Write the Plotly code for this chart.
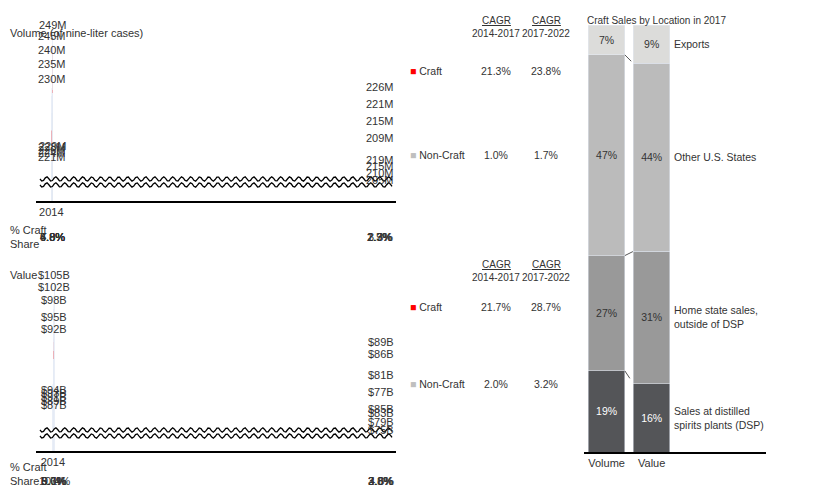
import numpy as np
import plotly.graph_objects as go

# === Data ===
years = ["2014", "2015", "2016", "2017", "2018f", "2019f", "2020f", "2021f", "2022f"]
vol_noncraft = [205, 210, 215, 219, 221, 224, 226, 228, 229]
vol_craft = [4, 5, 6, 8, 9, 11, 14, 17, 20]
vol_total = [209, 215, 221, 226, 230, 235, 240, 245, 249]
vol_share = ["1.9%", "2.3%", "2.7%", "3.3%", "4.0%", "4.8%", "5.8%", "6.8%", "7.9%"]

val_noncraft = [75, 79, 83, 85, 87, 89, 91, 93, 94]
val_craft = [2, 2, 3, 4, 5, 6, 8, 9, 11]
val_total = [77, 81, 86, 89, 92, 95, 98, 102, 105]
val_share = ["2.3%", "3.0%", "3.8%", "4.6%", "5.6%", "6.7%", "8.0%", "9.1%", "10.4%"]

cagr_vol = {"Craft": ["21.3%", "23.8%"], "Non-Craft": ["1.0%", "1.7%"]}
cagr_val = {"Craft": ["21.7%", "28.7%"], "Non-Craft": ["2.0%", "3.2%"]}

loc_cats = ["Volume", "Value"]
loc_segments = ["Sales at distilled<br>spirits plants (DSP)", "Home state sales,<br>outside of DSP",
                "Other U.S. States", "Exports"]
loc_values = [[19, 16], [27, 31], [47, 44], [7, 9]]
loc_colors = ["#545558", "#999999", "#bbbbbb", "#dcdcda"]

RED, GREY = "#ff0000", "#bfbfbf"
W, H = 840, 489
FONT = "Liberation Sans Narrow, Liberation Sans"
TXT = "#333333"

VOL_RANGE = [190, 251]
VAL_RANGE = [65, 107.6]

fig = go.Figure()

def px(x):
    return x / W

def py(y):
    return 1 - y / H

def f(size=10):
    return dict(size=size, color=TXT, family=FONT)

# === Stacked bar panels ===
for ax, nc, cr, tots, rng in [("", vol_noncraft, vol_craft, vol_total, VOL_RANGE),
                              ("2", val_noncraft, val_craft, val_total, VAL_RANGE)]:
    unit = "M" if ax == "" else "B"
    pre = "" if ax == "" else "$"
    fig.add_bar(x=years, y=nc, marker_color=GREY, width=0.67, xaxis="x" + ax, yaxis="y" + ax,
                showlegend=False, hoverinfo="skip")
    fig.add_bar(x=years, y=cr, marker_color=RED, width=0.67, xaxis="x" + ax, yaxis="y" + ax,
                text=[f"{pre}{v}{unit}" for v in cr], textposition="inside", insidetextanchor="middle",
                textfont=dict(color="white", size=11, family=FONT), showlegend=False, hoverinfo="skip")
    for i, yr in enumerate(years):
        fig.add_annotation(x=yr, y=(rng[0] + nc[i]) / 2, xref="x" + ax, yref="y" + ax,
                           text=f"{pre}{nc[i]}{unit}", showarrow=False, font=f(11))
        fig.add_annotation(x=yr, y=nc[i] + cr[i], xref="x" + ax, yref="y" + ax,
                           text=f"{pre}{tots[i]}{unit}", showarrow=False, yanchor="bottom", yshift=1,
                           font=f(11))

# share rows
for ax, share, ypix in [("x", vol_share, 229), ("x2", val_share, 481)]:
    for i, yr in enumerate(years):
        fig.add_annotation(x=yr, y=py(ypix), xref=ax, yref="paper", text=share[i], showarrow=False,
                           font=f(11))
    fig.add_annotation(x=0, y=py(ypix), xref="paper", yref="paper", xanchor="left",
                       text="% Craft<br>Share", showarrow=False, align="left", font=f(11))

fig.add_annotation(x=0, y=py(17), xref="paper", yref="paper", xanchor="left", text="Volume (of nine-liter cases)",
                   showarrow=False, font=f(11))
fig.add_annotation(x=0, y=py(267), xref="paper", yref="paper", xanchor="left", text="Value",
                   showarrow=False, font=f(11))

# axis break squiggles
def wave(x0, x1, ypix, amp=2.2, period=9):
    xs = np.linspace(x0, x1, 200)
    ys = ypix + amp * np.sin(2 * np.pi * (xs - x0) / period)
    return "M " + " L ".join(f"{px(a):.5f},{py(b):.5f}" for a, b in zip(xs, ys))

for yb in [174, 425]:
    fig.add_shape(type="path", path=wave(32, 384, yb), xref="paper", yref="paper",
                  line=dict(color="white", width=6))
    for off in (-3, 3):
        fig.add_shape(type="path", path=wave(32, 384, yb + off), xref="paper", yref="paper",
                      line=dict(color="black", width=1.3))

# legend + CAGR tables
for cagr, ytop, ycraft, ync in [(cagr_vol, 5, 55, 139), (cagr_val, 256, 299, 384)]:
    for xc, period in [(488, "2014-2017"), (538, "2017-2022")]:
        fig.add_annotation(x=px(xc), y=py(ytop), xref="paper", yref="paper", text="<u>CAGR</u>",
                           showarrow=False, font=f(10))
        fig.add_annotation(x=px(xc), y=py(ytop + 13), xref="paper", yref="paper", text=period,
                           showarrow=False, font=f(10))
    for name, yrow, col in [("Craft", ycraft, RED), ("Non-Craft", ync, GREY)]:
        fig.add_annotation(x=px(400), y=py(yrow), xref="paper", yref="paper", xanchor="left",
                           text=f"<span style='color:{col}'>■</span> {name}", showarrow=False, font=f(10.5))
        for xc, v in zip([488, 538], cagr[name]):
            fig.add_annotation(x=px(xc), y=py(yrow), xref="paper", yref="paper", text=v,
                               showarrow=False, font=f(10.5))

# === Location panel ===
for seg, vals, col in zip(loc_segments, loc_values, loc_colors):
    fig.add_bar(x=loc_cats, y=vals, marker_color=col, width=0.81, xaxis="x3", yaxis="y3",
                text=[f"{v}%" for v in vals], textposition="inside", insidetextanchor="middle",
                textfont=dict(size=10.5, family=FONT, color="white" if col == "#545558" else TXT),
                showlegend=False, hoverinfo="skip")
cum_vol = np.cumsum([v[0] for v in loc_values])
cum_val = np.cumsum([v[1] for v in loc_values])
for k in range(len(loc_segments) - 1):
    fig.add_shape(type="line", xref="x3", yref="y3", x0=0.405, x1=1 - 0.405, y0=cum_vol[k], y1=cum_val[k],
                  line=dict(color="#555555", width=1, dash="dash"))
for k, seg in enumerate(loc_segments):
    fig.add_annotation(x=1.45, y=cum_val[k] - loc_values[k][1] / 2, xref="x3", yref="y3", xanchor="left",
                       text=seg, showarrow=False, align="left", font=f(10.5))
fig.add_annotation(x=px(577), y=py(5), xref="paper", yref="paper", xanchor="left",
                   text="Craft Sales by Location in 2017", showarrow=False, font=f(10))

axfont = f(11)
fig.update_layout(
    barmode="stack", width=W, height=H, margin=dict(l=0, r=0, t=0, b=0),
    paper_bgcolor="white", plot_bgcolor="rgba(0,0,0,0)", font=dict(family=FONT),
    xaxis=dict(domain=[px(28), px(388)], anchor="y", type="category", showline=True, linecolor="black",
               linewidth=2, tickfont=axfont, ticks=""),
    yaxis=dict(domain=[py(193), py(20)], range=VOL_RANGE, visible=False),
    xaxis2=dict(domain=[px(28), px(388)], anchor="y2", type="category", showline=True, linecolor="black",
                linewidth=2, tickfont=axfont, ticks=""),
    yaxis2=dict(domain=[py(443), py(265)], range=VAL_RANGE, visible=False),
    xaxis3=dict(domain=[px(576), px(758)], anchor="y3", type="category", showline=True, linecolor="black",
                linewidth=2, tickfont=axfont, ticks=""),
    yaxis3=dict(domain=[py(444), py(17)], range=[0, 100], visible=False),
)

fig.write_html("out.html")
